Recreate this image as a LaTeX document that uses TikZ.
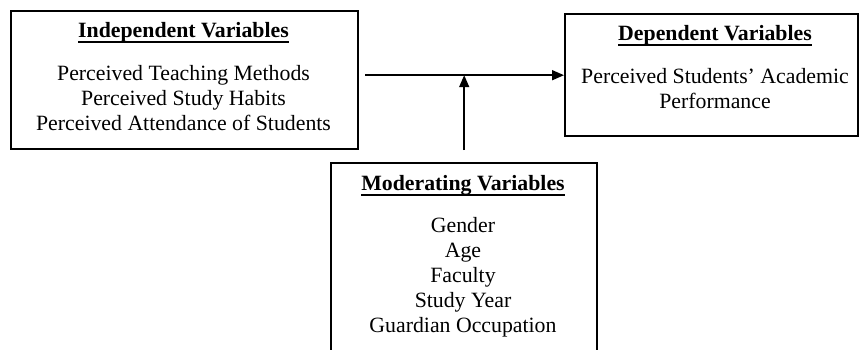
\documentclass[tikz,border=0pt]{standalone}
\usepackage{fontspec}
\setmainfont{Liberation Serif}
\usetikzlibrary{arrows.meta}
\usetikzlibrary{positioning}

\newcommand{\vartitle}[1]{\setbox0\hbox{\bfseries #1}\rlap{\vrule width \wd0 height -4pt depth 5.6pt}\box0}

\begin{document}
\begin{tikzpicture}[x=1pt, y=-1pt,
    varbox/.style={draw, line width=2.4pt, inner sep=0pt, anchor=north west},
    vartext/.style={align=center, inner sep=0pt, anchor=north, font=\fontsize{21.8}{25}\selectfont},
    link/.style={line width=1.6pt, -{Triangle[length=12pt, width=10pt]}}]
    \clip (0, 0) rectangle (859, 350);

    \node [varbox, minimum width=347pt, minimum height=138pt] (indep) at (10, 10) {};
    \node [varbox, minimum width=293pt, minimum height=122pt] (dep) at (564, 13) {};
    \node [varbox, minimum width=266pt, minimum height=220pt] (moder) at (330, 162) {};

    \node [vartext] (indeptext) at (183.5, 22) {\vartitle{Independent Variables}\\[18pt]
        Perceived Teaching Methods\\ Perceived Study Habits\\ Perceived Attendance of Students};
    \node [vartext] (deptext) at (715, 25) {\vartitle{Dependent Variables}\\[18pt]
        Perceived Students’ Academic\\ Performance};
    \node [vartext] (modertext) at (463, 175) {\vartitle{Moderating Variables}\\[17pt]
        Gender\\ Age\\ Faculty\\ Study Year\\ Guardian Occupation};

    \coordinate (join) at (moder.north |- dep.west);
    \draw [link] ([xshift=6pt]indep.east |- dep.west) -- (dep.west);
    \draw [link] ([yshift=12pt]moder.north) -- (join);
\end{tikzpicture}
\end{document}
